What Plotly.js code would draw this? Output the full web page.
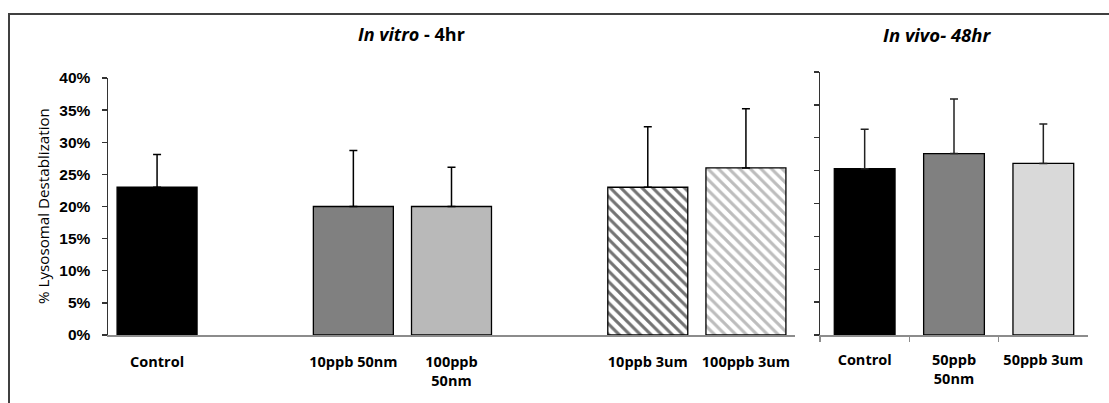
<!DOCTYPE html>
<html>
<head>
<meta charset="utf-8">
<script src="https://cdn.plot.ly/plotly-3.0.1.min.js"></script>
<style>
  html, body { margin: 0; padding: 0; background: #fff; }
  #wrap { position: relative; width: 1109px; height: 403px; overflow: hidden; }
  #frame { position: absolute; left: 8px; top: 13px; width: 1120px; height: 420px;
           border-top: 2px solid #404040; border-left: 2px solid #404040; box-sizing: border-box; pointer-events: none; }
  #chart { position: absolute; left: 0; top: 0; width: 1109px; height: 403px; }
</style>
</head>
<body>
<div id="wrap">
  <div id="chart"></div>
  <div id="frame"></div>
</div>
<script>
// In vitro - 4hr (blank strings are empty spacer slots)
const vitroCategories = ['Control', ' ', '10ppb 50nm', '100ppb<br>50nm', '  ', '10ppb 3um', '100ppb 3um'];
const vitroValues     = [23, null, 20, 20, null, 23, 26];
const vitroErrors     = [5.1, null, 8.7, 6.1, null, 9.4, 9.2];
const vitroColors     = ['#000000', '#ffffff', '#808080', '#b9b9b9', '#ffffff', '#737373', '#bdbdbd'];
const vitroPatterns   = ['', '', '', '', '', '\\', '\\'];

// In vivo - 48hr
const vivoCategories = ['Control', '50ppb<br>50nm', '50ppb 3um'];
const vivoValues     = [25.3, 27.6, 26.1];
const vivoErrors     = [6.0, 8.3, 6.0];
const vivoColors     = ['#000000', '#808080', '#d9d9d9'];

const yTicks      = [0, 5, 10, 15, 20, 25, 30, 35, 40];
const yTickLabels = ['0%', '5%', '10%', '15%', '20%', '25%', '30%', '35%', '40%'];

const W = 1109, H = 403;
const plotL = 108, plotR = 1088, plotT = 72, plotB = 335;
const pw = plotR - plotL, ph = plotB - plotT;
const px = v => (v - plotL) / pw;
const py = v => (plotB - v) / ph;

const tickFontX = { family: '"Open Sans", Lato, sans-serif', size: 14.5, color: '#000', weight: 'bold' };

const traces = [
  {
    type: 'bar', x: vitroCategories, y: vitroValues, xaxis: 'x', yaxis: 'y',
    width: 0.815,
    marker: {
      color: vitroColors,
      line: { color: '#000', width: 1.3 },
      pattern: { shape: vitroPatterns, fillmode: 'replace', bgcolor: '#ffffff', size: 7.5, solidity: 0.42 }
    },
    error_y: { type: 'data', symmetric: false, array: vitroErrors, arrayminus: vitroErrors.map(() => 0),
               color: '#000', thickness: 1.5, width: 4 },
    hoverinfo: 'x+y', showlegend: false
  },
  {
    type: 'bar', x: vivoCategories, y: vivoValues, xaxis: 'x2', yaxis: 'y2',
    width: 0.68,
    marker: { color: vivoColors, line: { color: '#000', width: 1.3 } },
    error_y: { type: 'data', symmetric: false, array: vivoErrors, arrayminus: vivoErrors.map(() => 0),
               color: '#222', thickness: 1.5, width: 4 },
    hoverinfo: 'x+y', showlegend: false
  }
];

const layout = {
  width: W, height: H,
  margin: { l: plotL, r: W - plotR, t: plotT, b: H - plotB },
  paper_bgcolor: 'rgba(0,0,0,0)', plot_bgcolor: 'rgba(0,0,0,0)',
  bargap: 0.2,
  xaxis: {
    domain: [0, px(795)], type: 'category',
    categoryorder: 'array', categoryarray: vitroCategories,
    showline: true, linecolor: '#8c8c8c', linewidth: 1.5,
    ticks: '', tickfont: tickFontX, ticklabelstandoff: 13,
    showgrid: false, zeroline: false, fixedrange: true
  },
  yaxis: {
    domain: [0, (plotB - 78) / ph], range: [0, 40],
    tickmode: 'array', tickvals: yTicks, ticktext: yTickLabels,
    showline: true, linecolor: '#333', linewidth: 1.5,
    ticks: 'outside', ticklen: 5, tickwidth: 1.3, tickcolor: '#333',
    tickfont: { family: '"Liberation Sans", Arial, sans-serif', size: 15.5, color: '#000', weight: 'bold' },
    ticklabelstandoff: 8,
    showgrid: false, zeroline: false, fixedrange: true
  },
  xaxis2: {
    domain: [px(820), 1], type: 'category', anchor: 'y2',
    categoryorder: 'array', categoryarray: vivoCategories,
    showline: true, linecolor: '#8c8c8c', linewidth: 1.5,
    ticks: 'outside', tickson: 'boundaries', ticklen: 5, tickwidth: 1.3, tickcolor: '#8c8c8c',
    tickfont: tickFontX, ticklabelstandoff: 11,
    showgrid: false, zeroline: false, fixedrange: true
  },
  yaxis2: {
    domain: [0, 1], range: [0, 40], anchor: 'x2',
    tickmode: 'array', tickvals: yTicks, showticklabels: false,
    showline: true, linecolor: '#333', linewidth: 1.5,
    ticks: 'outside', ticklen: 5, tickwidth: 1.3, tickcolor: '#333',
    showgrid: false, zeroline: false, fixedrange: true
  },
  annotations: [
    { text: '<b><i>In vitro</i> - 4hr</b>', xref: 'paper', yref: 'paper', x: px(411), y: py(34),
      xanchor: 'center', yanchor: 'middle', showarrow: false,
      font: { family: '"Open Sans", Lato, sans-serif', size: 18, color: '#000' } },
    { text: '<b><i>In vivo- 48hr</i></b>', xref: 'paper', yref: 'paper', x: px(937), y: py(34),
      xanchor: 'center', yanchor: 'middle', showarrow: false,
      font: { family: '"Open Sans", Lato, sans-serif', size: 18.5, color: '#000' } },
    { text: '% Lysosomal Destablization', xref: 'paper', yref: 'paper', x: px(43), y: py(206),
      xanchor: 'center', yanchor: 'middle', textangle: -90, showarrow: false,
      font: { family: '"Open Sans", Lato, sans-serif', size: 15.2, color: '#000' } }
  ]
};

Plotly.newPlot('chart', traces, layout, { displayModeBar: false, staticPlot: true });
</script>
</body>
</html>
